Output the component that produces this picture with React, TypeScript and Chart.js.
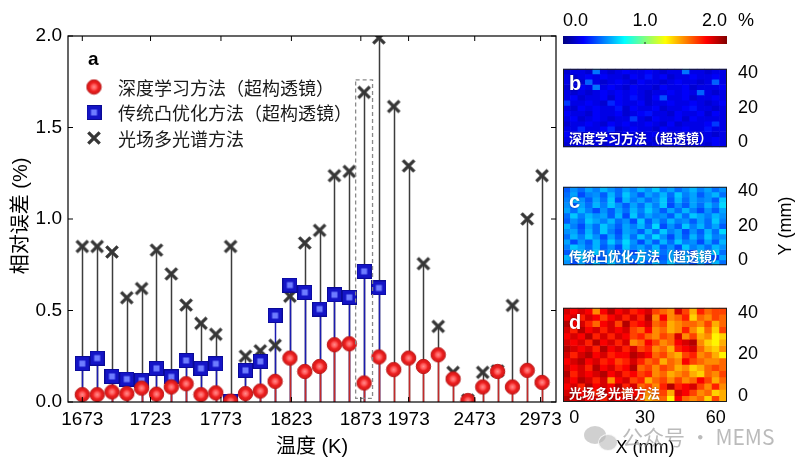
import React, { useEffect, useRef } from 'react';
import { Chart, registerables } from 'chart.js';
Chart.register(...registerables);

const FONT = "'Liberation Sans', Arial, 'Noto Sans CJK SC', sans-serif";
const CJK = "'Noto Sans CJK SC', 'Liberation Sans', sans-serif";

// ---------- main panel data ----------
const temperatures = [
  1673, 1683, 1693, 1703, 1713, 1723, 1733, 1743, 1753, 1763, 1773,
  1783, 1793, 1803, 1813, 1823, 1833, 1843, 1853, 1863, 1873,
  1973, 2073, 2173, 2273, 2373, 2473, 2573, 2673, 2773, 2873, 2973,
];
const deepLearning = [
  0.04, 0.04, 0.055, 0.046, 0.076, 0.043, 0.082, 0.1, 0.04, 0.05, 0.005,
  0.046, 0.06, 0.113, 0.24, 0.167, 0.194, 0.313, 0.318, 0.104, 0.246,
  0.177, 0.24, 0.194, 0.258, 0.126, 0.008, 0.082, 0.167, 0.082, 0.173, 0.107,
];
const convexOpt: (number | null)[] = [
  0.21, 0.24, 0.14, 0.125, 0.118, 0.184, 0.137, 0.227, 0.184, 0.209, 0.005,
  0.173, 0.222, 0.472, 0.639, 0.599, 0.508, 0.586, 0.572, 0.714, 0.623,
  null, null, null, null, null, null, null, null, null, null, null,
];
const lightField = [
  0.85, 0.85, 0.82, 0.57, 0.62, 0.83, 0.70, 0.53, 0.43, 0.37, 0.85,
  0.25, 0.28, 0.31, 0.578, 0.869, 0.938, 1.237, 1.26, 1.692, 1.99,
  1.615, 1.29, 0.756, 0.413, 0.162, 0.01, 0.162, 0.17, 0.528, 1.0, 1.237,
];
const seriesNames = ['深度学习方法（超构透镜）', '传统凸优化方法（超构透镜）', '光场多光谱方法'];
const xTickIndex = [0, 5, 10, 15, 20, 21, 26, 31];
const xTickAt = [0, 4.6, 9.35, 14.1, 18.78, 22.0, 26.46, 30.9];
const yTicks = [0, 0.5, 1.0, 1.5, 2.0];
const highlightIndex = 19;
const highlightTop = 1.76;

// ---------- heat maps (rows top -> bottom, digit levels) ----------
const heatB = [
  '1221921232232122922122',
  '2123232213242312232232',
  '2218212321322123221282',
  '1232923213221322312223',
  '2121232323212232328212',
  '2312231324213722312232',
  '6223215322312232232123',
  '2132322413223122342212',
  '3221322312342213223132',
  '2312321226213223132222',
  '1223213232232131222362',
  '2252235123221322322422',
  '3212322132123213232212',
  '2321223213221232213232',
  '1232212322312223122132',
];
const heatC = [
  '2536475364758463574635',
  '3614527385264738462573',
  '4752638174635827364528',
  '5263748526374815263749',
  '6374152637485263741526',
  '3847562718364527386475',
  '2538647351826374526384',
  '7416385264739152847362',
  '5627384165273846152739',
  '3748516273849516273845',
  '6152738495162738451627',
  '4863725184637251846375',
  '2574836251748362517483',
  '7385126374851263748516',
  '5162738451627384516273',
];
const heatD = [
  '1212620213214561473544',
  '2131242131306265385645',
  '0213521403215476556475',
  '1302131214526576368584',
  '2120313124356451647698',
  '1213021316524652106897',
  '0121302131436573215786',
  '1310213220125467436579',
  '2102132431354756245665',
  '1213021320546457687545',
  '0312102132436576578564',
  '1201316214375464652475',
  '2130212031546303214636',
  '1021302142365471246587',
  '0102130210476592565847',
];
const heatLevelB = { base: 0.12, step: 0.04 };
const heatLevelC = { base: 0.36, step: 0.035 };
const heatLevelD = { base: 1.9, step: -0.07 };
const heatXRange = [-4.74, 64.74];
const heatYRange = [-2.8, 42.4];
const heatXTicks = [0, 30, 60];
const heatYTicks = [0, 20, 40];
const colorbarTicks = [0, 1, 2];
const colorbarMax = 2;

function jet(t: number): string {
  t = Math.max(0, Math.min(1, t));
  const cl = (v: number) => Math.round(255 * Math.max(0, Math.min(1, v)));
  return `rgb(${cl(1.5 - Math.abs(4 * t - 3))},${cl(1.5 - Math.abs(4 * t - 2))},${cl(1.5 - Math.abs(4 * t - 1))})`;
}

function makeCircle(): HTMLCanvasElement {
  const s = 17;
  const c = document.createElement('canvas');
  c.width = s; c.height = s;
  const g = c.getContext('2d')!;
  const cx = s / 2, r = 7.2;
  const grad = g.createRadialGradient(cx, cx, 0, cx, cx, r);
  grad.addColorStop(0, '#ff8c8c');
  grad.addColorStop(0.35, '#ff5858');
  grad.addColorStop(0.6, '#ec2020');
  grad.addColorStop(1, '#d41616');
  g.beginPath(); g.arc(cx, cx, r, 0, Math.PI * 2);
  g.fillStyle = grad; g.fill();
  g.lineWidth = 1; g.strokeStyle = 'rgba(185,20,20,0.9)'; g.stroke();
  return c;
}
function makeSquare(): HTMLCanvasElement {
  const s = 15;
  const c = document.createElement('canvas');
  c.width = s; c.height = s;
  const g = c.getContext('2d')!;
  g.fillStyle = '#1414c6'; g.fillRect(0, 0, s, s);
  g.strokeStyle = '#0a0a96'; g.lineWidth = 1; g.strokeRect(0.5, 0.5, s - 1, s - 1);
  g.fillStyle = '#6e7cff'; g.fillRect(4.5, 4.5, 6, 6);
  return c;
}
function makeCross(): HTMLCanvasElement {
  const s = 16;
  const c = document.createElement('canvas');
  c.width = s; c.height = s;
  const g = c.getContext('2d')!;
  g.strokeStyle = '#363636'; g.lineWidth = 3.3; g.lineCap = 'butt';
  g.beginPath();
  g.moveTo(2.3, 2.3); g.lineTo(13.7, 13.7);
  g.moveTo(13.7, 2.3); g.lineTo(2.3, 13.7);
  g.stroke();
  return c;
}

const stemColors = ['#c42a2a', '#1c1cb0', '#3c3c3c'];
const noGrid = { display: false, drawTicks: false };

export default function App() {
  const mainRef = useRef<HTMLCanvasElement>(null);
  const cbRef = useRef<HTMLCanvasElement>(null);
  const bRef = useRef<HTMLCanvasElement>(null);
  const cRef = useRef<HTMLCanvasElement>(null);
  const dRef = useRef<HTMLCanvasElement>(null);

  useEffect(() => {
    const charts: Chart[] = [];
    const circleImg = makeCircle();
    const squareImg = makeSquare();
    const crossImg = makeCross();
    const imgs = [circleImg, squareImg, crossImg];

    const toPts = (arr: (number | null)[]) =>
      arr.map((v, i) => ({ x: i, y: v })).filter((p) => p.y !== null) as { x: number; y: number }[];

    const stemPlugin = {
      id: 'stems',
      beforeDatasetsDraw(chart: any) {
        const { ctx, chartArea, scales } = chart;
        const x = scales.x, y = scales.y;
        const y0 = y.getPixelForValue(0);
        ctx.save();
        ctx.beginPath();
        ctx.rect(chartArea.left, chartArea.top, chartArea.right - chartArea.left, chartArea.bottom - chartArea.top);
        ctx.clip();
        for (let i = chart.data.datasets.length - 1; i >= 0; i--) {
          ctx.strokeStyle = stemColors[i];
          ctx.lineWidth = 1.5;
          ctx.beginPath();
          for (const p of chart.data.datasets[i].data) {
            const px = Math.round(x.getPixelForValue(p.x)) + 0.5;
            ctx.moveTo(px, y0);
            ctx.lineTo(px, y.getPixelForValue(p.y));
          }
          ctx.stroke();
        }
        ctx.restore();
      },
      afterDatasetsDraw(chart: any) {
        const { ctx, scales } = chart;
        const x = scales.x, y = scales.y;
        const l = x.getPixelForValue(highlightIndex - 0.57);
        const r = x.getPixelForValue(highlightIndex + 0.57);
        const t = y.getPixelForValue(highlightTop);
        const b = y.getPixelForValue(0.02);
        ctx.save();
        ctx.setLineDash([4, 3]);
        ctx.strokeStyle = '#8a8a8a';
        ctx.lineWidth = 1.3;
        ctx.strokeRect(l, t, r - l, b - t);
        ctx.restore();
      },
      afterDraw(chart: any) {
        const { ctx, chartArea: a, scales } = chart;
        ctx.save();
        ctx.strokeStyle = '#000';
        ctx.lineWidth = 1.2;
        ctx.strokeRect(a.left, a.top, a.right - a.left, a.bottom - a.top);
        ctx.lineWidth = 1;
        ctx.beginPath();
        for (const t of scales.y.ticks) {
          const py = scales.y.getPixelForValue(t.value);
          ctx.moveTo(a.left, py); ctx.lineTo(a.left + 5, py);
          ctx.moveTo(a.right, py); ctx.lineTo(a.right - 5, py);
        }
        for (const t of scales.x.ticks) {
          const px = scales.x.getPixelForValue(t.value);
          ctx.moveTo(px, a.bottom); ctx.lineTo(px, a.bottom - 5);
          ctx.moveTo(px, a.top); ctx.lineTo(px, a.top + 5);
        }
        ctx.stroke();
        ctx.fillStyle = '#000';
        ctx.font = `bold 19px ${FONT}`;
        ctx.textBaseline = 'alphabetic';
        ctx.textAlign = 'left';
        ctx.fillText('a', a.left + 20, a.top + 29);
        ctx.font = `18px ${CJK}`;
        ctx.textBaseline = 'middle';
        chart.data.datasets.forEach((ds: any, i: number) => {
          const cy = a.top + 51 + i * 25.5;
          const img = imgs[i];
          ctx.drawImage(img, a.left + 26 - img.width / 2, cy - img.height / 2);
          ctx.fillStyle = '#1a1a1a';
          ctx.fillText(ds.label, a.left + 50, cy + 1);
        });
        ctx.translate(a.left - 47, (a.top + a.bottom) / 2 - 3);
        ctx.rotate(-Math.PI / 2);
        ctx.textAlign = 'center';
        ctx.font = `20px ${FONT}`;
        ctx.fillStyle = '#000';
        ctx.fillText('相对误差 (%)', 0, 0);
        ctx.restore();
      },
    };

    if (mainRef.current) {
      charts.push(
        new Chart(mainRef.current, {
          type: 'scatter',
          data: {
            datasets: [
              { label: seriesNames[0], data: toPts(deepLearning), pointStyle: circleImg as any, pointRadius: 7, clip: 0 as any },
              { label: seriesNames[1], data: toPts(convexOpt), pointStyle: squareImg as any, pointRadius: 7, clip: 0 as any },
              { label: seriesNames[2], data: toPts(lightField), pointStyle: crossImg as any, pointRadius: 7, clip: 0 as any },
            ],
          },
          options: {
            animation: false,
            responsive: false,
            layout: { padding: { top: 36, right: 24, bottom: 11, left: 0 } },
            plugins: { legend: { display: false }, tooltip: { enabled: false } },
            scales: {
              x: {
                type: 'linear',
                min: -0.964,
                max: 31.94,
                grid: noGrid,
                border: { display: false },
                afterBuildTicks: (s: any) => { s.ticks = xTickAt.map((v) => ({ value: v })); },
                ticks: {
                  autoSkip: false,
                  maxRotation: 0,
                  padding: 6,
                  color: '#000',
                  font: { size: 19, family: FONT },
                  callback: (_v: any, i: number) => String(temperatures[xTickIndex[i]]),
                },
                title: { display: true, text: '温度 (K)', color: '#000', font: { size: 20, family: FONT }, padding: 0 },
                afterFit: (s: any) => { s.height = 57; },
              },
              y: {
                min: 0,
                max: 2,
                grid: noGrid,
                border: { display: false },
                afterBuildTicks: (s: any) => { s.ticks = yTicks.map((v) => ({ value: v })); },
                ticks: {
                  padding: 6,
                  color: '#000',
                  font: { size: 19, family: FONT },
                  callback: (v: any) => Number(v).toFixed(1),
                },
                afterFit: (s: any) => { s.width = 68; },
              },
            },
          } as any,
          plugins: [stemPlugin],
        })
      );
    }

    if (cbRef.current) {
      charts.push(
        new Chart(cbRef.current, {
          type: 'scatter',
          data: { datasets: [] },
          options: {
            animation: false,
            responsive: false,
            layout: { padding: { top: 0, right: 73, bottom: 6, left: 8 } },
            plugins: { legend: { display: false }, tooltip: { enabled: false } },
            scales: {
              x: {
                type: 'linear',
                position: 'top',
                min: 0,
                max: colorbarMax,
                grid: noGrid,
                border: { display: false },
                afterBuildTicks: (s: any) => { s.ticks = colorbarTicks.map((v) => ({ value: v })); },
                ticks: {
                  align: 'inner',
                  padding: 4,
                  color: '#000',
                  font: { size: 18, family: FONT },
                  callback: (v: any) => Number(v).toFixed(1),
                },
                afterFit: (s: any) => { s.height = 36; },
              },
              y: { display: false, min: 0, max: 1 },
            },
          } as any,
          plugins: [
            {
              id: 'cbar',
              beforeDatasetsDraw(chart: any) {
                const { ctx, chartArea: a, scales } = chart;
                const x0 = scales.x.getPixelForValue(0);
                const x1 = scales.x.getPixelForValue(colorbarMax);
                const g = ctx.createLinearGradient(x0, 0, x1, 0);
                for (let i = 0; i <= 32; i++) g.addColorStop(i / 32, jet(i / 32));
                ctx.save();
                ctx.fillStyle = g;
                ctx.fillRect(x0, a.top, x1 - x0, a.bottom - a.top);
                ctx.strokeStyle = '#222';
                ctx.lineWidth = 1;
                ctx.beginPath();
                const xm = scales.x.getPixelForValue(1);
                ctx.moveTo(xm, a.bottom); ctx.lineTo(xm, a.bottom - 2);
                ctx.stroke();
                ctx.fillStyle = '#000';
                ctx.font = `18px ${FONT}`;
                ctx.textBaseline = 'middle';
                ctx.fillText('%', a.right + 11, 21);
                ctx.restore();
              },
            },
          ],
        })
      );
    }

    const makeHeat = (
      canvas: HTMLCanvasElement,
      grid: string[],
      level: { base: number; step: number },
      letter: string,
      label: string,
      showX: boolean,
      showYTitle: boolean
    ) => {
      const rows = grid.length;
      const cols = grid[0].length;
      const cw = (heatXRange[1] - heatXRange[0]) / cols;
      const rh = (heatYRange[1] - heatYRange[0]) / rows;
      const datasets = grid.map((row, r) => {
        const lo = heatYRange[0] + (rows - 1 - r) * rh;
        return {
          type: 'bar',
          data: row.split('').map((_ch, c) => ({ x: heatXRange[0] + (c + 0.5) * cw, y: [lo, lo + rh] })),
          backgroundColor: row.split('').map((ch) => jet((level.base + level.step * Number(ch)) / colorbarMax)),
          borderWidth: 0,
          grouped: false,
          barPercentage: 1,
          categoryPercentage: 1,
        };
      });
      return new Chart(canvas, {
        type: 'bar',
        data: { datasets: datasets as any },
        options: {
          animation: false,
          responsive: false,
          layout: { padding: { top: 5, right: 0, bottom: showX ? 8 : 5, left: 8 } },
          plugins: { legend: { display: false }, tooltip: { enabled: false } },
          scales: {
            x: {
              type: 'linear',
              min: heatXRange[0],
              max: heatXRange[1],
              offset: false,
              display: showX,
              grid: noGrid,
              border: { display: false },
              afterBuildTicks: (s: any) => { s.ticks = heatXTicks.map((v) => ({ value: v })); },
              ticks: { padding: 5, maxRotation: 0, color: '#000', font: { size: 18, family: FONT } },
              title: { display: true, text: 'X (mm)', color: '#000', font: { size: 18, family: FONT }, padding: { top: 0, bottom: 3 } },
              afterFit: (s: any) => { s.height = showX ? 60 : 0; },
            },
            y: {
              type: 'linear',
              position: 'right',
              min: heatYRange[0],
              max: heatYRange[1],
              grid: noGrid,
              border: { display: false },
              afterBuildTicks: (s: any) => { s.ticks = heatYTicks.map((v) => ({ value: v })); },
              ticks: { padding: 11, color: '#000', font: { size: 18, family: FONT } },
              afterFit: (s: any) => { s.width = 73; },
            },
          },
        } as any,
        plugins: [
          {
            id: 'heatDecor',
            afterDraw(chart: any) {
              const { ctx, chartArea: a } = chart;
              ctx.save();
              ctx.strokeStyle = '#1e1e1e';
              ctx.lineWidth = 1;
              ctx.strokeRect(a.left + 0.5, a.top + 0.5, a.right - a.left - 1, a.bottom - a.top - 1);
              ctx.fillStyle = '#fff';
              ctx.shadowColor = 'rgba(0,0,0,0.45)';
              ctx.shadowBlur = 2;
              ctx.textAlign = 'left';
              ctx.textBaseline = 'alphabetic';
              ctx.font = `bold 20px ${FONT}`;
              ctx.fillText(letter, a.left + 6, a.top + 21);
              ctx.font = `bold 13px ${CJK}`;
              ctx.fillText(label, a.left + 6, a.bottom - 4);
              ctx.restore();
              if (showYTitle) {
                ctx.save();
                ctx.translate(a.right + 59, (a.top + a.bottom) / 2);
                ctx.rotate(-Math.PI / 2);
                ctx.fillStyle = '#000';
                ctx.font = `18px ${FONT}`;
                ctx.textAlign = 'center';
                ctx.textBaseline = 'middle';
                ctx.fillText('Y (mm)', 0, 0);
                ctx.restore();
              }
            },
          },
        ],
      });
    };

    if (bRef.current) charts.push(makeHeat(bRef.current, heatB, heatLevelB, 'b', '深度学习方法（超透镜）', false, false));
    if (cRef.current) charts.push(makeHeat(cRef.current, heatC, heatLevelC, 'c', '传统凸优化方法（超透镜）', false, true));
    if (dRef.current) charts.push(makeHeat(dRef.current, heatD, heatLevelD, 'd', '光场多光谱方法', true, false));

    return () => charts.forEach((c) => c.destroy());
  }, []);

  const abs = (l: number, t: number, w: number, h: number): React.CSSProperties => ({
    position: 'absolute', left: l, top: t, width: w, height: h,
  });

  return (
    <div style={{ position: 'absolute', left: 0, top: 0, width: 800, height: 470, background: '#fff', overflow: 'hidden' }}>
      <canvas ref={mainRef} width={580} height={470} style={abs(0, 0, 580, 470)} />
      <canvas ref={cbRef} width={245} height={50} style={abs(555, 0, 245, 50)} />
      <canvas ref={bRef} width={245} height={122} style={abs(555, 47, 245, 122)} />
      <canvas ref={cRef} width={245} height={122} style={abs(555, 165, 245, 122)} />
      <canvas ref={dRef} width={245} height={184} style={abs(555, 286, 245, 184)} />
      <div style={{ position: 'absolute', left: 584, top: 426, width: 22, height: 18, borderRadius: '50%', background: 'rgba(170,170,170,0.55)' }} />
      <div style={{ position: 'absolute', left: 598, top: 434, width: 18, height: 15, borderRadius: '50%', background: 'rgba(185,185,185,0.6)', border: '1.5px solid rgba(255,255,255,0.8)' }} />
      <div
        style={{
          position: 'absolute', left: 622, top: 424, fontFamily: CJK, fontSize: 21,
          color: 'rgba(150,150,150,0.65)', whiteSpace: 'nowrap', lineHeight: '24px',
        }}
      >
        公众号 · MEMS
      </div>
    </div>
  );
}
